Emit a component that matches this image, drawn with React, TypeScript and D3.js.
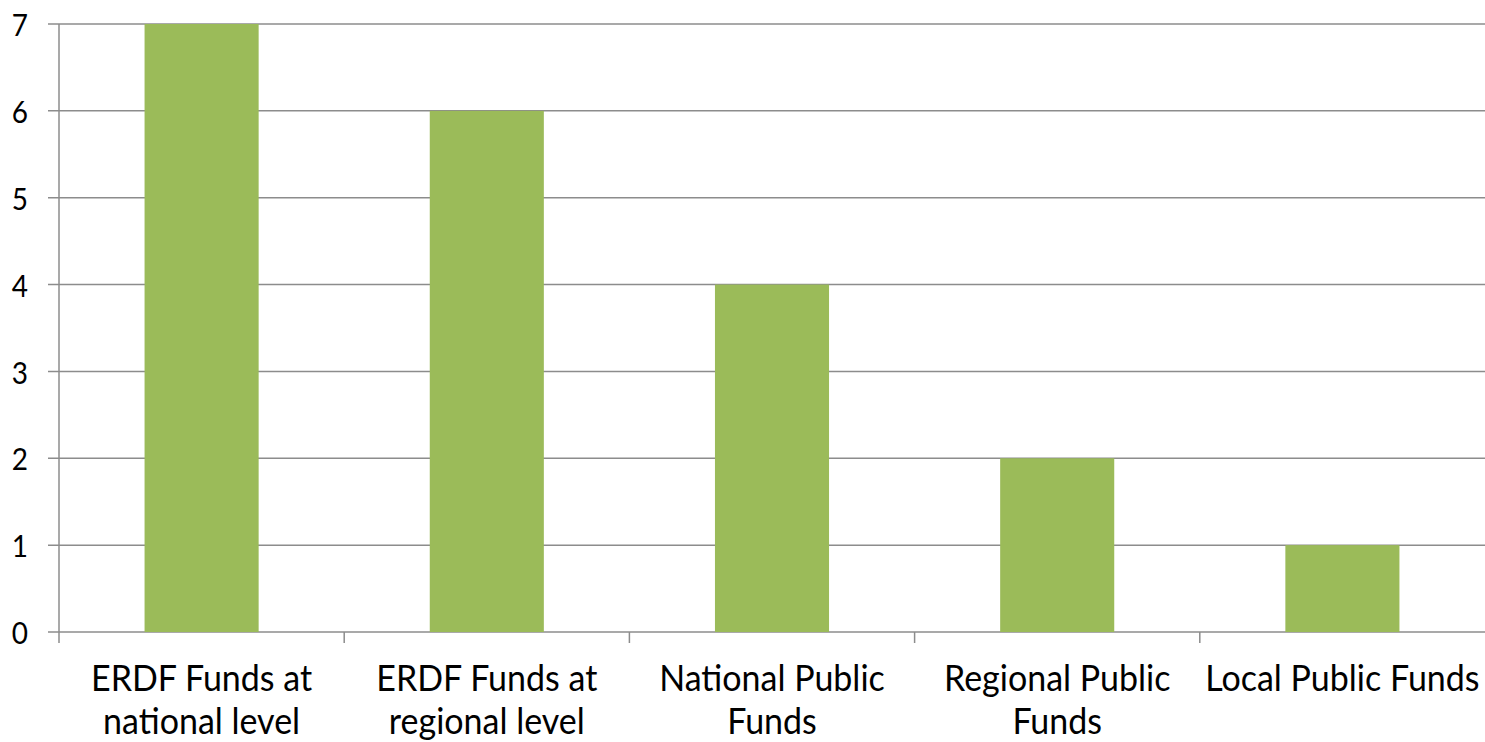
import React from "react";
import * as d3 from "d3";

const categories: string[][] = [
  ["ERDF Funds at", "national level"],
  ["ERDF Funds at", "regional level"],
  ["National Public", "Funds"],
  ["Regional Public", "Funds"],
  ["Local Public Funds"],
];
const values: number[] = [7, 6, 4, 2, 1];
const yTicks: number[] = [0, 1, 2, 3, 4, 5, 6, 7];

const W = 1485;
const H = 742;
const left = 59;
const right = 1485;
const top = 24;
const bottom = 632;
const FONT = "Lato, 'Open Sans', sans-serif";

export default function App() {
  const x = d3
    .scaleBand<number>()
    .domain(d3.range(values.length))
    .range([left, right])
    .paddingInner(0)
    .paddingOuter(0);
  const y = d3.scaleLinear().domain([0, 7]).range([bottom, top]);
  const bw = x.bandwidth() * 0.4;

  return (
    <svg
      width={W}
      height={H}
      style={{ position: "absolute", left: 0, top: 0, background: "#fff" }}
    >
      {yTicks.map((t) => (
        <g key={t}>
          <line x1={48} x2={right} y1={y(t)} y2={y(t)} stroke="#8c8c8c" strokeWidth={1.5} />
          <text
            x={28}
            y={y(t)}
            textAnchor="end"
            dominantBaseline="central"
            fontFamily={FONT}
            fontSize={28}
            fill="#000"
            transform={`translate(0 ${y(t)}) scale(1 1.12) translate(0 ${-y(t)})`}
          >
            {t}
          </text>
        </g>
      ))}
      <line x1={left} x2={left} y1={top} y2={bottom + 11} stroke="#8c8c8c" strokeWidth={1.5} />
      {d3.range(1, values.length).map((i) => (
        <line
          key={i}
          x1={x(i)!}
          x2={x(i)!}
          y1={bottom}
          y2={bottom + 11}
          stroke="#8c8c8c"
          strokeWidth={1.5}
        />
      ))}
      {values.map((v, i) => (
        <rect
          key={i}
          x={x(i)! + x.bandwidth() / 2 - bw / 2}
          y={y(v)}
          width={bw}
          height={bottom - y(v)}
          fill="#9bbb59"
        />
      ))}
      {categories.map((lines, i) => (
        <text
          key={i}
          textAnchor="middle"
          fontFamily={FONT}
          fontSize={34}
          fill="#000"
          transform={`translate(${x(i)! + x.bandwidth() / 2} 691) scale(1 1.08)`}
        >
          {lines.map((l, j) => (
            <tspan key={j} x={0} y={j * 39.5}>
              {l}
            </tspan>
          ))}
        </text>
      ))}
    </svg>
  );
}
